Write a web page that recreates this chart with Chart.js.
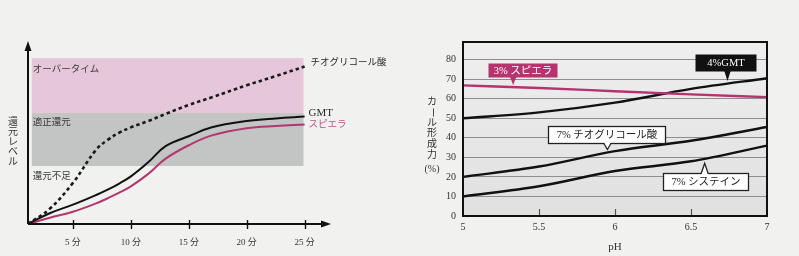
<!DOCTYPE html>
<html>
<head>
<meta charset="utf-8">
<script src="https://cdn.jsdelivr.net/npm/chart.js@4.4.1/dist/chart.umd.min.js"></script>
<style>
  body { margin: 0; background: #f1f1f0; width: 799px; height: 256px; overflow: hidden; position: relative; }
  #left { position: absolute; left: 0; top: 0; }
  #right { position: absolute; left: 400px; top: 0; }
</style>
</head>
<body>
<canvas id="left" width="400" height="256"></canvas>
<canvas id="right" width="399" height="256"></canvas>
<script>
// left chart: reduction level over time
const minutes = [1.1, 3, 5, 7, 8, 9, 10, 11.5, 13, 15, 17, 20, 22.5, 25]
const thioLevel = [0, 8.5, 23, 41.5, 47, 51, 54, 57.5, 61.5, 66.5, 70.8, 77.5, 82.6, 88]
const gmtLevel = [0, 6, 10.8, 16.2, 19.2, 22.6, 26.6, 34.5, 43.5, 49, 54, 57.5, 59, 60]
const spieraLevel = [0, 3.5, 6.8, 11.5, 14.4, 17.5, 21, 28, 36.5, 44, 49.5, 53.5, 54.8, 55.6]
const minuteTicks = [5, 10, 15, 20, 25]
const zoneLevels = [32.4, 62, 92.7]
const zoneNames = ['還元不足', '適正還元', 'オーバータイム']

// right chart: curl strength vs pH
const phValues = [5, 5.5, 6, 6.5, 7]
const spiera3 = [66.8, 65.5, 63.8, 62.2, 60.8]
const gmt4 = [50, 53, 58, 65, 70.5]
const thio7 = [20, 25.3, 33.2, 38.5, 45.5]
const cysteine7 = [10, 15.2, 23, 28, 36]

const SERIF = "'Liberation Serif', 'DejaVu Serif', 'Noto Sans CJK JP', serif"
const MAGENTA = '#b5336f'

const pairs = (xs, ys) => xs.map((x, i) => ({ x: x, y: ys[i] }))

function vertText(ctx, chars, x, y, step) {
  chars.forEach((c, i) => {
    const cy = y + i * step
    if (c === 'ー') {
      ctx.save()
      ctx.translate(x, cy)
      ctx.rotate(Math.PI / 2)
      ctx.fillText(c, 0, 0)
      ctx.restore()
    } else {
      ctx.fillText(c, x, cy)
    }
  })
}

const leftDecor = {
  id: 'leftDecor',
  beforeDatasetsDraw(chart) {
    const { ctx, scales: { x, y } } = chart
    const x0 = x.getPixelForValue(1.45), x1 = x.getPixelForValue(24.9)
    const yTop = y.getPixelForValue(zoneLevels[2])
    const yMid = y.getPixelForValue(zoneLevels[1])
    const yLow = y.getPixelForValue(zoneLevels[0])
    ctx.save()
    ctx.fillStyle = '#e6c7da'
    ctx.fillRect(x0, yTop, x1 - x0, yMid - yTop)
    ctx.fillStyle = '#c3c4c4'
    ctx.fillRect(x0, yMid, x1 - x0, yLow - yMid)

    ctx.font = '9.5px ' + SERIF
    ctx.fillStyle = '#3a3a3a'
    ctx.textBaseline = 'middle'
    ctx.textAlign = 'left'
    ctx.fillText(zoneNames[2], x0 + 1, yTop + 11)
    ctx.fillText(zoneNames[1], x0 + 1, yMid + 9)
    ctx.fillText(zoneNames[0], x0 + 1, yLow + 10)
    ctx.restore()
  },
  afterDatasetsDraw(chart) {
    const { ctx, chartArea: a, scales: { x, y } } = chart
    ctx.save()
    ctx.strokeStyle = '#111'
    ctx.fillStyle = '#111'
    ctx.lineWidth = 2
    // axes with arrows
    ctx.beginPath()
    ctx.moveTo(a.left, a.bottom)
    ctx.lineTo(a.left, a.top)
    ctx.moveTo(a.left, a.bottom)
    ctx.lineTo(a.right + 2, a.bottom)
    ctx.stroke()
    ctx.beginPath()
    ctx.moveTo(a.left, a.top - 4)
    ctx.lineTo(a.left - 3.5, a.top + 6)
    ctx.lineTo(a.left + 3.5, a.top + 6)
    ctx.closePath()
    ctx.fill()
    ctx.beginPath()
    ctx.moveTo(a.right + 9, a.bottom)
    ctx.lineTo(a.right - 1, a.bottom - 3.5)
    ctx.lineTo(a.right - 1, a.bottom + 3.5)
    ctx.closePath()
    ctx.fill()
    // tick marks
    ctx.lineWidth = 1.4
    ctx.beginPath()
    minuteTicks.forEach(m => {
      const px = Math.round(x.getPixelForValue(m)) + 0.5
      ctx.moveTo(px, a.bottom - 4)
      ctx.lineTo(px, a.bottom + 5)
    })
    ctx.stroke()

    // line end labels
    const ex = x.getPixelForValue(25) + 4
    const last = minutes.length - 1
    ctx.textAlign = 'left'
    ctx.textBaseline = 'middle'
    ctx.font = '9.5px ' + SERIF
    ctx.fillStyle = '#2a2a2a'
    ctx.fillText('チオグリコール酸', ex + 2, y.getPixelForValue(thioLevel[last]) - 4)
    ctx.font = '11px ' + SERIF
    ctx.fillText('GMT', ex, y.getPixelForValue(gmtLevel[last]) - 3)
    ctx.font = '9.5px ' + SERIF
    ctx.fillStyle = '#c0508a'
    ctx.fillText('スピエラ', ex, y.getPixelForValue(spieraLevel[last]))

    // y title, written vertically
    ctx.fillStyle = '#333'
    ctx.textAlign = 'center'
    ctx.font = '10px ' + SERIF
    vertText(ctx, Array.from('還元レベル'), 13, 122, 10)
    ctx.restore()
  }
}

new Chart(document.getElementById('left'), {
  type: 'line',
  data: {
    datasets: [
      { label: 'チオグリコール酸', data: pairs(minutes, thioLevel), borderColor: '#1a1a1a', borderWidth: 2.6, borderDash: [3.5, 3] },
      { label: 'GMT', data: pairs(minutes, gmtLevel), borderColor: '#111', borderWidth: 2 },
      { label: 'スピエラ', data: pairs(minutes, spieraLevel), borderColor: '#b0386f', borderWidth: 2 }
    ]
  },
  options: {
    responsive: false,
    devicePixelRatio: 1,
    animation: false,
    layout: { padding: { left: 28, right: 78, top: 45, bottom: 8 } },
    elements: { point: { radius: 0 }, line: { tension: 0.4 } },
    plugins: { legend: { display: false }, tooltip: { enabled: false } },
    scales: {
      x: {
        type: 'linear',
        min: 1.12,
        max: 26.5,
        grid: { display: false, drawTicks: false },
        border: { display: false },
        afterBuildTicks: s => { s.ticks = minuteTicks.map(v => ({ value: v })) },
        afterFit: s => { s.height = 24 },
        ticks: {
          padding: 13,
          color: '#333',
          font: { family: SERIF, size: 9 },
          callback: v => v + ' 分'
        }
      },
      y: { display: false, min: 0, max: 100 }
    }
  },
  plugins: [leftDecor]
})

// callout boxes of the right chart
const callouts = [
  { text: '3% スピエラ', ph: 5.33, val: 66, dx: -25, dy: -24, w: 69, h: 14, fill: MAGENTA, color: '#fff' },
  { text: '4%GMT', ph: 6.74, val: 68, dx: -32, dy: -29, w: 61, h: 17, fill: '#111', color: '#fff' },
  { text: '7% チオグリコール酸', ph: 5.95, val: 33, dx: -59, dy: -25, w: 117, h: 17, fill: '#fff', stroke: '#222', color: '#222' },
  { text: '7% システイン', ph: 6.59, val: 28.5, dx: -42, dy: 13, w: 85, h: 17, fill: '#fff', stroke: '#222', color: '#222' }
]

function drawCallout(ctx, c, ax, ay) {
  const bx = Math.round(ax + c.dx) + 0.5, by = Math.round(ay + c.dy) + 0.5
  const below = c.dy > 0
  const edge = below ? by : by + c.h
  const tip = below ? ay + 3 : ay - 2
  ctx.fillStyle = c.fill
  ctx.fillRect(bx, by, c.w, c.h)
  if (c.stroke) {
    ctx.lineWidth = 1.3
    ctx.strokeStyle = c.stroke
    ctx.strokeRect(bx, by, c.w, c.h)
  }
  ctx.beginPath()
  ctx.moveTo(ax - 3.5, edge + (below ? 1.5 : -1.5))
  ctx.lineTo(ax, tip)
  ctx.lineTo(ax + 3.5, edge + (below ? 1.5 : -1.5))
  ctx.closePath()
  ctx.fill()
  if (c.stroke) {
    ctx.beginPath()
    ctx.moveTo(ax - 3.5, edge)
    ctx.lineTo(ax, tip)
    ctx.lineTo(ax + 3.5, edge)
    ctx.stroke()
  }
  ctx.fillStyle = c.color
  ctx.font = '10.5px ' + SERIF
  ctx.textAlign = 'center'
  ctx.textBaseline = 'middle'
  ctx.fillText(c.text, bx + c.w / 2, by + c.h / 2 + 0.5)
}

const rightDecor = {
  id: 'rightDecor',
  beforeDraw(chart) {
    const { ctx, chartArea: a } = chart
    const g = ctx.createLinearGradient(0, a.top, 0, a.bottom)
    g.addColorStop(0, '#efefef')
    g.addColorStop(1, '#e0e0e0')
    ctx.save()
    ctx.fillStyle = g
    ctx.fillRect(a.left, a.top, a.right - a.left, a.bottom - a.top)
    ctx.restore()
  },
  afterDraw(chart) {
    const { ctx, chartArea: a, scales: { x, y } } = chart
    ctx.save()
    // inner tick marks on the pH axis
    ctx.strokeStyle = '#555'
    ctx.lineWidth = 1.2
    ctx.beginPath()
    phValues.slice(1, -1).forEach(p => {
      const px = Math.round(x.getPixelForValue(p)) + 0.5
      ctx.moveTo(px, a.bottom)
      ctx.lineTo(px, a.bottom - 7)
    })
    ctx.stroke()

    callouts.forEach(c => drawCallout(ctx, c, x.getPixelForValue(c.ph), y.getPixelForValue(c.val)))

    // frame
    ctx.strokeStyle = '#111'
    ctx.lineWidth = 2
    ctx.strokeRect(a.left, a.top, a.right - a.left, a.bottom - a.top)

    // y title, written vertically
    ctx.fillStyle = '#333'
    ctx.font = '10px ' + SERIF
    ctx.textAlign = 'center'
    ctx.textBaseline = 'middle'
    vertText(ctx, Array.from('カール形成力'), 32, 102, 10.6)
    ctx.fillText('(%)', 32, 169)
    ctx.restore()
  }
}

new Chart(document.getElementById('right'), {
  type: 'line',
  data: {
    datasets: [
      { label: '3% スピエラ', data: pairs(phValues, spiera3), borderColor: MAGENTA, borderWidth: 2.4 },
      { label: '4%GMT', data: pairs(phValues, gmt4), borderColor: '#111', borderWidth: 2.4 },
      { label: '7% チオグリコール酸', data: pairs(phValues, thio7), borderColor: '#111', borderWidth: 2.4 },
      { label: '7% システイン', data: pairs(phValues, cysteine7), borderColor: '#111', borderWidth: 2.4 }
    ]
  },
  options: {
    responsive: false,
    devicePixelRatio: 1,
    animation: false,
    layout: { padding: { left: 0, right: 32, top: 42, bottom: 0 } },
    elements: { point: { radius: 0 }, line: { cubicInterpolationMode: 'monotone' } },
    plugins: { legend: { display: false }, tooltip: { enabled: false } },
    scales: {
      x: {
        type: 'linear',
        min: 5,
        max: 7,
        grid: { display: false, drawTicks: false },
        border: { display: false },
        afterBuildTicks: s => { s.ticks = phValues.map(v => ({ value: v })) },
        afterFit: s => { s.height = 40 },
        ticks: { padding: 5, color: '#333', font: { family: SERIF, size: 10 }, callback: v => String(v) },
        title: { display: true, text: 'pH', color: '#333', font: { family: SERIF, size: 11 }, padding: { top: 6, bottom: 2 } }
      },
      y: {
        min: 0,
        max: 89,
        afterFit: s => { s.width = 63 },
        grid: { color: '#8e8e8e', lineWidth: 1, drawTicks: false },
        border: { display: false },
        ticks: { stepSize: 10, includeBounds: false, padding: 7, color: '#333', font: { family: SERIF, size: 10 } }
      }
    }
  },
  plugins: [rightDecor]
})
</script>
</body>
</html>
